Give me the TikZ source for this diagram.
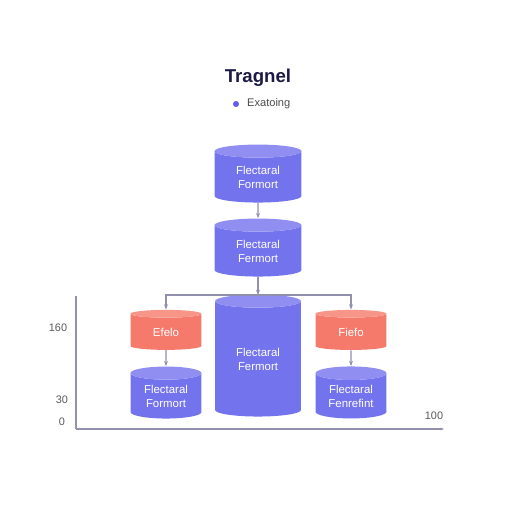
\documentclass[tikz,border=0pt]{standalone}
\usepackage{fontspec}
\setmainfont{Liberation Sans}
\usetikzlibrary{shapes.geometric,arrows.meta}
\definecolor{primary}{HTML}{1C1A45}
\definecolor{secondary}{HTML}{7473EE}
\definecolor{accent}{HTML}{F57A6B}
\definecolor{axisgray}{HTML}{9291AD}

\begin{document}
\begin{tikzpicture}[x=0.02cm, y=-0.02cm,
    cyl/.style={cylinder, shape border rotate=90, aspect=0.3, draw=none,
                cylinder uses custom fill, cylinder body fill=secondary,
                cylinder end fill=secondary!80!white, align=center,
                text=white, font=\fontsize{6.5}{8}\selectfont,
                inner sep=0pt},
    store/.style={cyl, minimum width=1.74cm, minimum height=1.16cm},
    big/.style={cyl, minimum width=1.72cm, minimum height=2.44cm},
    small/.style={cyl, minimum width=1.42cm, minimum height=1.04cm},
    queue/.style={small, minimum height=0.8cm, cylinder body fill=accent,
                  cylinder end fill=accent!80!white},
    conn/.style={draw=axisgray, line width=0.6pt, -{Stealth[length=3pt]}},
    tick/.style={text=black!65, font=\fontsize{6.2}{7}\selectfont},
]
\useasboundingbox[fill=white] (0,0) rectangle (512,512);

% Titel
\node[font=\fontsize{10.6}{12}\bfseries, text=primary] (title) at (258,78) {Tragnel};
\fill[secondary!80!blue] (236,104) circle (3);
\node[anchor=west, font=\fontsize{6.3}{7}\selectfont, text=black!70] (legend) at (241,104) {Exatoing};

% Zylinder
\node[store] (top) at (258,177) {Flectaral\\Formort};
\node[store] (mid) at (258,251) {Flectaral\\Fermort};
\node[big] (center) at (258,359) {Flectaral\\Fermort};
\node[queue] (leftq) at (166,332) {Efelo};
\node[queue] (rightq) at (351,332) {Fiefo};
\node[small] (leftb) at (166,396) {Flectaral\\Formort};
\node[small] (rightb) at (351,396) {Flectaral\\Fenrefint};

% Verbindungen
\coordinate (split) at (258,295);
\draw[conn] (top) -- (mid);
\draw[conn] (mid) -- (split);
\draw[conn] (split) -| (leftq);
\draw[conn] (split) -| (rightq);
\draw[conn] (leftq) -- (leftb);
\draw[conn] (rightq) -- (rightb);

% Achsen
\coordinate (origin) at (76,429);
\coordinate (ytop) at (76,296);
\coordinate (xend) at (444,429);
\draw[axisgray, line width=0.6pt] (ytop) -- (origin);
\draw[axisgray, line width=0.6pt, -{Stealth[length=2pt]}] (origin) -- (xend);
\node[tick] (t160) at (58,328) {160};
\node[tick] (t30) at (62,400) {30};
\node[tick] (t0) at (62,422) {0};
\node[tick] (t100) at (434,416) {100};

\end{tikzpicture}
\end{document}
